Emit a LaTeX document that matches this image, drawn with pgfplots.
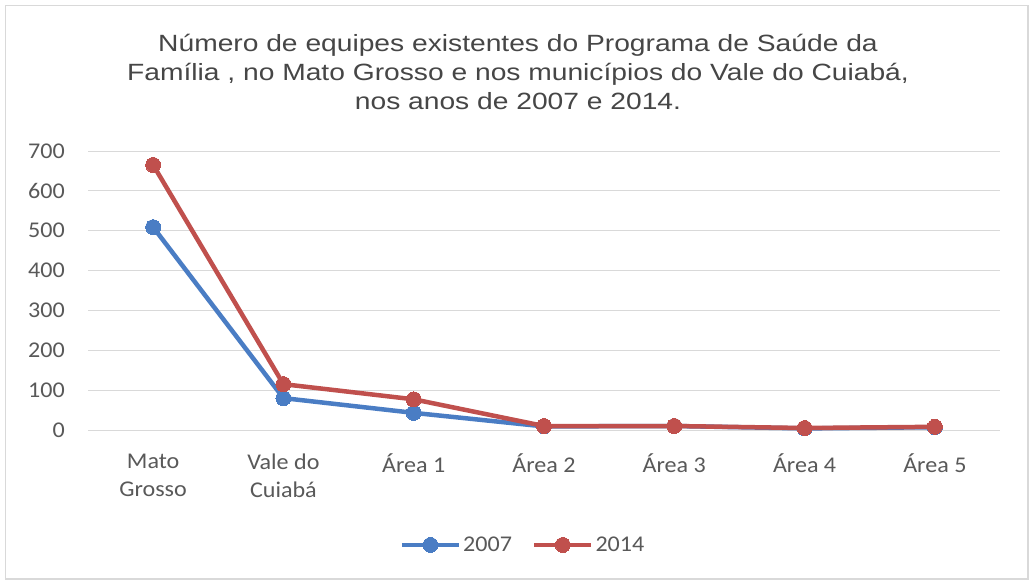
\documentclass[border=0pt]{standalone}
\usepackage{pgfplots}
\pgfplotsset{compat=1.18}
\usepackage{fontspec}
\setmainfont{Carlito}[FakeStretch=1.07]
\newfontfamily\titlefont{Liberation Sans}[FakeStretch=1.2]
\definecolor{gridgray}{RGB}{217,217,217}
\definecolor{txtgray}{RGB}{89,89,89}
\definecolor{titlegray}{RGB}{70,70,70}
\definecolor{serblue}{RGB}{74,125,196}
\definecolor{serred}{RGB}{192,80,77}
\begin{document}
\begin{tikzpicture}[x=1pt,y=1pt]
\fill[white] (0,0) rectangle (1030,582);
\draw[line width=1.5pt, color=gridgray] (5.5,3) rectangle (1028,576.5);
\node[anchor=base, inner sep=0pt, font=\titlefont\fontsize{23.5}{28}\selectfont, text=titlegray] at (518,530) {Número de equipes existentes do Programa de Saúde da};
\node[anchor=base, inner sep=0pt, font=\titlefont\fontsize{23.5}{28}\selectfont, text=titlegray] at (518,501) {Família , no Mato Grosso e nos municípios do Vale do Cuiabá,};
\node[anchor=base, inner sep=0pt, font=\titlefont\fontsize{23.5}{28}\selectfont, text=titlegray] at (518,472) {nos anos de 2007 e 2014.};
\begin{axis}[
  at={(88pt,152pt)}, anchor=south west,
  scale only axis, width=912pt, height=279pt,
  xmin=-0.5, xmax=6.5, ymin=0, ymax=700,
  xtick={0,1,2,3,4,5,6},
  xticklabels={{Mato\\Grosso},{Vale do\\Cuiabá},{Área 1},{Área 2},{Área 3},{Área 4},{Área 5}},
  ytick={0,100,200,300,400,500,600,700},
  ymajorgrids, grid style={gridgray, line width=1pt},
  axis line style={draw=none}, major tick style={draw=none},
  clip=false,
  /pgf/number format/assume math mode=true,
  yticklabel style={anchor=east, inner sep=0pt, xshift=-23pt, font=\fontsize{22.5}{26}\selectfont, text=txtgray},
  xticklabel style={align=center, anchor=north, inner sep=0pt, yshift=-24pt, font=\fontsize{22.5}{28}\selectfont, text=txtgray},
  legend style={at={(rel axis cs:0.477,-0.412)}, anchor=center, draw=none, fill=none, font=\fontsize{22.5}{26}\selectfont, text=txtgray, /tikz/every even column/.append style={column sep=18pt}},
  legend columns=2,
  legend image code/.code={\draw[mark repeat=2,mark phase=2] plot coordinates {(0pt,0pt) (28.5pt,0pt) (57pt,0pt)};},
]
\addplot[serblue, line width=4.5pt, line join=round, mark=*, mark size=7.5pt, mark options={line width=0pt, fill=serblue}] coordinates {
(0,509) (1,80) (2,43) (3,9) (4,10) (5,4) (6,7)};
\addlegendentry{2007}
\addplot[serred, line width=4.5pt, line join=round, mark=*, mark size=7.5pt, mark options={line width=0pt, fill=serred}] coordinates {
(0,665) (1,115) (2,77) (3,10) (4,10) (5,5) (6,8)};
\addlegendentry{2014}
\end{axis}
\end{tikzpicture}
\end{document}
